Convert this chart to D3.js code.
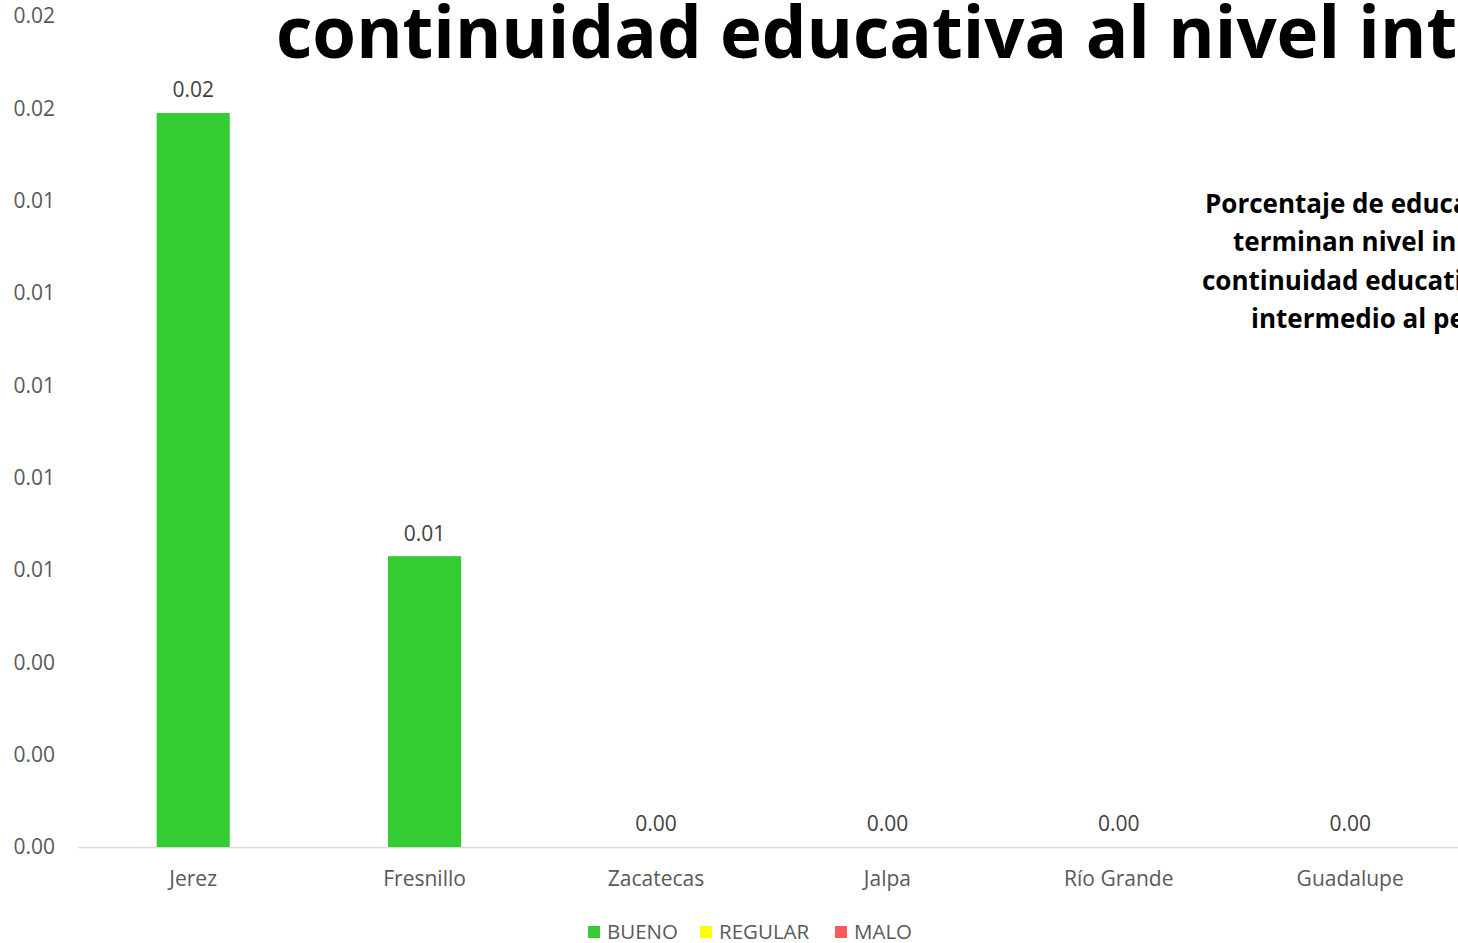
<!DOCTYPE html>
<html><head><meta charset="utf-8">
<script src="https://cdn.jsdelivr.net/npm/d3@7"></script>
<style>
html,body{margin:0;padding:0;background:#fff;overflow:hidden;}
svg{display:block;font-family:"Open Sans","Noto Sans",sans-serif;}
</style></head>
<body><svg id="c" width="1458" height="943"></svg>
<script>
const categories = ["Jerez","Fresnillo","Zacatecas","Jalpa","Río Grande","Guadalupe"];
const bueno   = [0.0159, 0.0063, 0, 0, 0, 0];
const regular = [0, 0, 0, 0, 0, 0];
const malo    = [0, 0, 0, 0, 0, 0];
const seriesNames = ["BUENO","REGULAR","MALO"];
const seriesColors = ["#33cc33","#ffff00","#ff5b5b"];
const yTicks = [0,0.002,0.004,0.006,0.008,0.010,0.012,0.014,0.016,0.018];
const titleText = "continuidad educativa al nivel intermedio";
const noteLines = ["Porcentaje de educandos que","terminan nivel inicial con","continuidad educativa al nivel","intermedio al periodo"];
const noteX = [1205,1233,1202,1251];

const svg = d3.select("#c");
const W = 1458, H = 943;
const x = d3.scaleBand().domain(categories).range([77.5, 77.5 + 6*231.4]).paddingInner(0.684).paddingOuter(0.342);
const y = d3.scaleLinear().domain([0, 0.018]).range([847, 16]);

// y tick labels
svg.append("g").selectAll("text").data(yTicks).join("text")
  .attr("x", 55).attr("y", d => y(d)).attr("dy", "0.35em")
  .attr("text-anchor", "end").attr("font-size", 21).attr("fill", "#595959")
  .text(d => d3.format(".2f")(d));

// baseline
svg.append("line").attr("x1", 78).attr("x2", W).attr("y1", y(0)+0.5).attr("y2", y(0)+0.5)
  .attr("stroke", "#d9d9d9").attr("stroke-width", 1.5);

// stacked bars
const rows = categories.map((c,i)=>({cat:c, BUENO:bueno[i], REGULAR:regular[i], MALO:malo[i]}));
const stack = d3.stack().keys(seriesNames)(rows);
svg.append("g").selectAll("g").data(stack).join("g")
  .attr("fill", (d,i)=>seriesColors[i])
  .selectAll("rect").data(d=>d).join("rect")
  .attr("x", d=>x(d.data.cat)).attr("width", x.bandwidth())
  .attr("y", d=>y(d[1])).attr("height", d=>y(d[0])-y(d[1]));

// data labels
svg.append("g").selectAll("text").data(rows).join("text")
  .attr("x", d=>x(d.cat)+x.bandwidth()/2)
  .attr("y", d=>y(d.BUENO+d.REGULAR+d.MALO) - 23).attr("dy","0.35em")
  .attr("text-anchor","middle").attr("font-size",21).attr("fill","#404040")
  .text(d=>d3.format(".2f")(d.BUENO+d.REGULAR+d.MALO));

// category labels
svg.append("g").selectAll("text").data(categories).join("text")
  .attr("x", d=>x(d)+x.bandwidth()/2).attr("y", 879).attr("dy","0.35em")
  .attr("text-anchor","middle").attr("font-size",21).attr("fill","#595959")
  .text(d=>d);

// title
const t = svg.append("text").attr("font-size", 72).attr("font-weight", 700).attr("fill","#000")
  .attr("x", 0).attr("y", 0).text(titleText);
const wPart = t.node().getSubStringLength(0, 30);
const sx = (1340-276)/wPart;
t.attr("transform", `translate(276,58) scale(${sx},1)`);

// annotation
svg.append("g").selectAll("text").data(noteLines).join("text")
  .attr("x",(d,i)=>noteX[i]).attr("y",(d,i)=>213+i*38.3)
  .attr("font-size",26).attr("font-weight",700).attr("fill","#000")
  .text(d=>d);

// legend
const lg = svg.append("g");
const legX = [588, 700, 835];
seriesNames.forEach((n,i)=>{
  lg.append("rect").attr("x",legX[i]).attr("y",926).attr("width",12).attr("height",12).attr("fill",seriesColors[i]);
  lg.append("text").attr("x",legX[i]+19).attr("y",932).attr("dy","0.35em")
    .attr("font-size",20.5).attr("fill","#595959").text(n);
});
</script></body></html>
